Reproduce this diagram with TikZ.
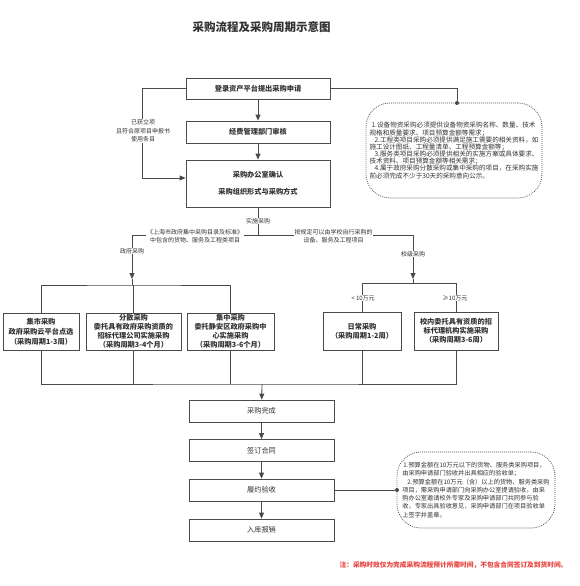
\documentclass[tikz,border=0pt]{standalone}
\usepackage{fontspec}
\setmainfont{Noto Sans CJK SC}
\usetikzlibrary{arrows.meta,calc}
\definecolor{ln}{HTML}{4A4A4A}
\definecolor{tx}{HTML}{333333}
\definecolor{notered}{HTML}{E8413C}
\tikzset{
  box/.style={draw=ln, line width=0.8pt, fill=white, text=tx, align=center, inner sep=0pt,
    font=\fontsize{7.2}{9}\selectfont\bfseries},
  lowbox/.style={box, font=\fontsize{7.2}{9}\selectfont, minimum width=145pt, minimum height=22pt},
  conn/.style={draw=ln, line width=0.8pt},
  arr/.style={conn, -{Triangle[length=6pt,width=5pt]}},
  lbl/.style={fill=white, text=tx, align=center, inner sep=0.6pt, font=\fontsize{6}{8}\selectfont},
  notebox/.style={draw=ln, line width=0.8pt, dash pattern=on 0.8pt off 1.2pt, rounded corners=24pt,
    text=tx, align=left, inner sep=0pt},
  dotmark/.style={circle, fill=ln, inner sep=0pt, minimum size=4pt},
}
\begin{document}
\begin{tikzpicture}[x=1pt,y=-1pt]
\useasboundingbox (0,0) rectangle (580,586);
\fill[white] (0,0) rectangle (580,586);

% title
\node[text=tx, font=\fontsize{11.5}{14}\selectfont\bfseries] (title) at (261.5,27) {采购流程及采购周期示意图};

% main top boxes
\node[box, minimum width=144pt, minimum height=21pt] (b1) at (258,88.5) {登录资产平台提出采购申请};
\node[box, minimum width=144pt, minimum height=22pt] (b2) at (258,132) {经费管理部门审核};
\node[box, minimum width=144pt, minimum height=47pt] (b3) at (258,183.5) {采购办公室确认\\[8pt]采购组织形式与采购方式};

% note box 1
\node[notebox, minimum width=176pt, minimum height=95pt, font=\fontsize{6.6}{7.15}\selectfont] (n1) at (454,150.5) {%
\hspace*{2pt}1.设备物资采购必须提供设备物资采购名称、数量、技术\\
规格和质量要求、项目预算金额等需求；\\
\hspace*{5pt}2.工程类项目采购必须提供满足施工需要的相关资料，如\\
施工设计图纸、工程量清单、工程预算金额等；\\
\hspace*{5pt}3.服务类项目采购必须提供相关的实施方案或具体要求、\\
技术资料、项目预算金额等相关需求；\\
\hspace*{5pt}4.属于政府采购分散采购或集中采购的项目，在采购实施\\
前必须完成不少于30天的采购意向公示。};
\node[dotmark] (d1) at (457,103) {};

% left/gov boxes
\node[box, minimum width=76pt, minimum height=37pt, font=\fontsize{7.2}{10}\selectfont\bfseries] (ba) at (41,331.5) {集市采购\\政府采购云平台点选\\（采购周期1-3周）};
\node[box, minimum width=95pt, minimum height=37pt] (bb) at (133.5,331.5) {分散采购\\委托具有政府采购资质的\\招标代理公司实施采购\\（采购周期3-4个月）};
\node[box, minimum width=87pt, minimum height=37pt] (bc) at (230.5,331.5) {集中采购\\委托静安区政府采购中\\心实施采购\\（采购周期3-6个月）};
% school boxes
\node[box, minimum width=78pt, minimum height=38pt] (bd) at (362,331) {日常采购\\（采购周期1-2周）};
\node[box, minimum width=84pt, minimum height=38pt] (be) at (456,331) {校内委托具有资质的招\\标代理机构实施采购\\（采购周期3-6周）};

% lower boxes
\node[lowbox] (c1) at (261.5,411) {采购完成};
\node[lowbox] (c2) at (261.5,450.5) {签订合同};
\node[lowbox] (c3) at (261.5,490) {履约验收};
\node[lowbox] (c4) at (261.5,530) {入库报销};

% note box 2
\node[notebox, minimum width=158pt, minimum height=76pt, font=\fontsize{6.2}{8.25}\selectfont] (n2) at (476,490) {%
\hspace*{1pt}1.预算金额在10万元以下的货物、服务类采购项目，\\
由采购申请部门验收并出具相应的验收单；\\
\hspace*{5pt}2.预算金额在10万元（含）以上的货物、服务类采购\\
项目，需采购申请部门向采购办公室提请验收，由采\\
购办公室邀请校外专家及采购申请部门共同参与验\\
收，专家出具验收意见，采购申请部门在项目验收单\\
上签字并盖章。};
\node[dotmark] (d2) at (397,490) {};

% coordinates
\coordinate (j) at (258,235);
\coordinate (jl) at (132,235);
\coordinate (jr) at (413,235);
\coordinate (al) at (132,279);
\coordinate (gl) at (132,285);
\coordinate (ar) at (413,279);
\coordinate (gr) at (413,283.5);
\coordinate (bus) at (262,384);

% top connectors
\draw[arr] (b1) -- (b2);
\draw[arr] (b2) -- (b3);
\draw[arr] (b1.west) -- ++(-43,0) |- ($(b3.west)+(0,-5.5)$);
\draw[conn] (b1.east) -| (d1);

% branch
\draw[conn] (b3.south) -- (j);
\draw[conn] (jl) -- (jr);
\draw[arr] (jl) -- (al);
\draw[conn] (al) -- (gl);
\draw[arr] (jr) -- (ar);
\draw[conn] (ar) -- (gr);
\draw[conn] (ba.north) |- (gl) -| (bc.north);
\draw[conn] (bb.north) -- (bb.north |- gl);
\draw[conn] (bd.north) |- (gr) -| (be.north);

% merge
\draw[conn] (ba.south) |- (bus) -| (be.south);
\draw[conn] (bb.south) -- (bb.south |- bus);
\draw[conn] (bc.south) -- (bc.south |- bus);
\draw[conn] (bd.south) -- (bd.south |- bus);
\draw[arr] (bus) -- (c1);
\draw[arr] (c1) -- (c2);
\draw[arr] (c2) -- (c3);
\draw[arr] (c3) -- (c4);
\draw[conn] (c3.east) -- (d2);

% labels
\node[lbl, font=\fontsize{6}{8.5}\selectfont] (lloop) at (143,131) {已获立项\\且符合原项目申报书\\使用条目};
\node[lbl] (limpl) at (258,221) {实施采购};
\node[lbl] (lgovcat) at (195,236) {《上海市政府集中采购目录及标准》\\中包含的货物、服务及工程类项目};
\node[lbl] (lschcat) at (333.5,236.5) {按规定可以由学校自行采购的\\设备、服务及工程项目};
\node[lbl] (lgov) at (132,251) {政府采购};
\node[lbl] (lsch) at (413,254) {校级采购};
\node[lbl] (llt) at (363,298) {< 10万元};
\node[lbl] (lge) at (455,298) {≥10万元};

% footnote
\node[text=notered, font=\fontsize{6.7}{8}\selectfont\bfseries] (foot) at (453.5,565) {注：采购时效仅为完成采购流程预计所需时间，不包含合同签订及到货时间。};
\end{tikzpicture}
\end{document}
